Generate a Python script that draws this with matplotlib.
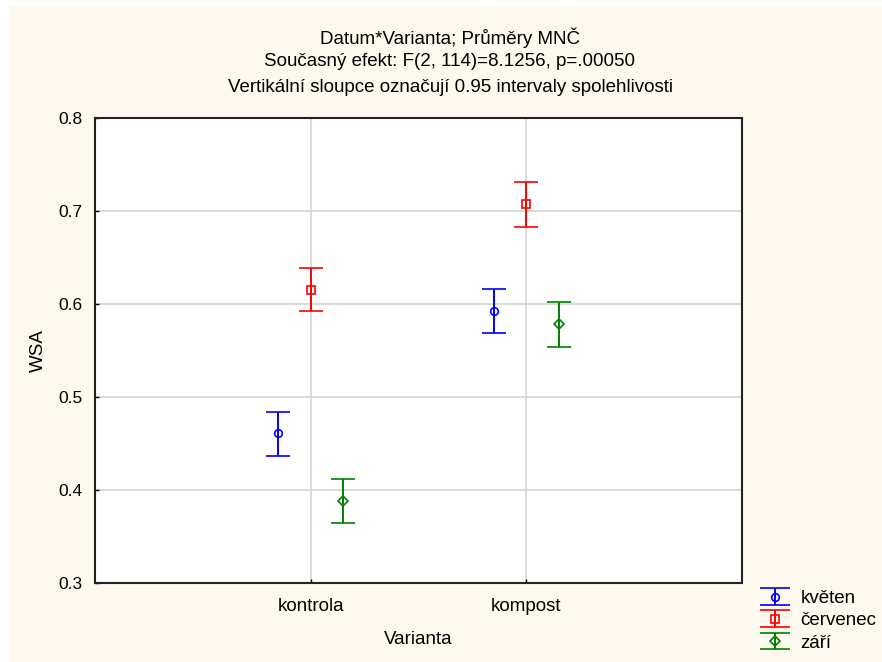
import matplotlib
matplotlib.use("Agg")
import matplotlib.pyplot as plt
import numpy as np
from matplotlib.patches import Rectangle
from matplotlib.lines import Line2D
from matplotlib.legend_handler import HandlerErrorbar
from matplotlib.container import ErrorbarContainer

plt.rcParams['font.family'] = ['Liberation Sans', 'DejaVu Sans']

categories = ["kontrola", "kompost"]
series = ["květen", "červenec", "září"]
means = {
    "květen":   [0.461, 0.593],
    "červenec": [0.615, 0.707],
    "září":     [0.388, 0.578],
}
lower = {
    "květen":   [0.437, 0.569],
    "červenec": [0.592, 0.683],
    "září":     [0.365, 0.554],
}
upper = {
    "květen":   [0.484, 0.616],
    "červenec": [0.639, 0.731],
    "září":     [0.412, 0.602],
}
colors = {"květen": "#0000FF", "červenec": "#FF0000", "září": "#008000"}
markers = {"květen": "o", "červenec": "s", "září": "D"}
msizes = {"květen": 5.5, "červenec": 6, "září": 5}
offsets = {"květen": -0.15, "červenec": 0.0, "září": 0.15}
yticks = [0.3, 0.4, 0.5, 0.6, 0.7, 0.8]

W, H = 882, 662
FS = 13.5
fig = plt.figure(figsize=(W / 100, H / 100), dpi=100, facecolor="white")
fig.patches.append(Rectangle((9 / W, 0), 1 - 9 / W, 1 - 6 / H, transform=fig.transFigure,
                             facecolor="#FEF9EE", edgecolor="none", zorder=-10))

ax = fig.add_axes([95 / W, (H - 583) / H, (742 - 95) / W, (583 - 118) / H])
ax.set_facecolor("white")

x = np.arange(1, len(categories) + 1)
for s in series:
    m = np.array(means[s])
    lo = m - np.array(lower[s])
    hi = np.array(upper[s]) - m
    ax.errorbar(x + offsets[s], m, yerr=[lo, hi], fmt=markers[s], color=colors[s],
                mfc="none", mec=colors[s], ms=msizes[s], mew=1.2, elinewidth=1.4,
                capsize=8.6, capthick=1.6, label=s, zorder=3)

ax.set_xlim(0, 3)
ax.set_ylim(0.3, 0.8)
ax.set_xticks(x)
ax.set_xticklabels(categories, fontsize=FS)
ax.set_yticks(yticks)
ax.set_yticklabels([f"{t:.1f}" for t in yticks], fontsize=12.5)
ax.grid(True, color="#D4D4D4", linewidth=1.2, zorder=0)
ax.set_axisbelow(True)
ax.tick_params(direction="in", length=3, width=1, colors="black")
ax.tick_params(axis="y", pad=9)
ax.tick_params(axis="x", pad=11)
for sp in ax.spines.values():
    sp.set_linewidth(1.5)
    sp.set_color("#222222")

ax.set_xlabel("Varianta", fontsize=FS, labelpad=11.5)
ax.set_ylabel("WSA", fontsize=FS, labelpad=8)

fig.text(450 / W, 1 - 38 / H, "Datum*Varianta; Průměry MNČ", ha="center", va="center", fontsize=FS)
fig.text(450 / W, 1 - 62 / H, "Současný efekt: F(2, 114)=8.1256, p=.00050", ha="center", va="center", fontsize=FS)
fig.text(450 / W, 1 - 87 / H, "Vertikální sloupce označují 0.95 intervaly spolehlivosti", ha="center", va="center", fontsize=FS)


def upd(legend_handle, orig_handle):
    legend_handle.update_from(orig_handle)
    if isinstance(legend_handle, Line2D) and orig_handle.get_marker() == "_":
        legend_handle.set_markersize(22)


leg = ax.legend(loc="upper left", bbox_to_anchor=(760 / W, 1 - 590 / H), bbox_transform=fig.transFigure,
                frameon=False, fontsize=FS, handlelength=1.6, handletextpad=0.55,
                labelspacing=0.27, borderpad=0, borderaxespad=0,
                handler_map={ErrorbarContainer: HandlerErrorbar(yerr_size=0.45, update_func=upd)})

fig.savefig("out.png", dpi=100, facecolor="white")
